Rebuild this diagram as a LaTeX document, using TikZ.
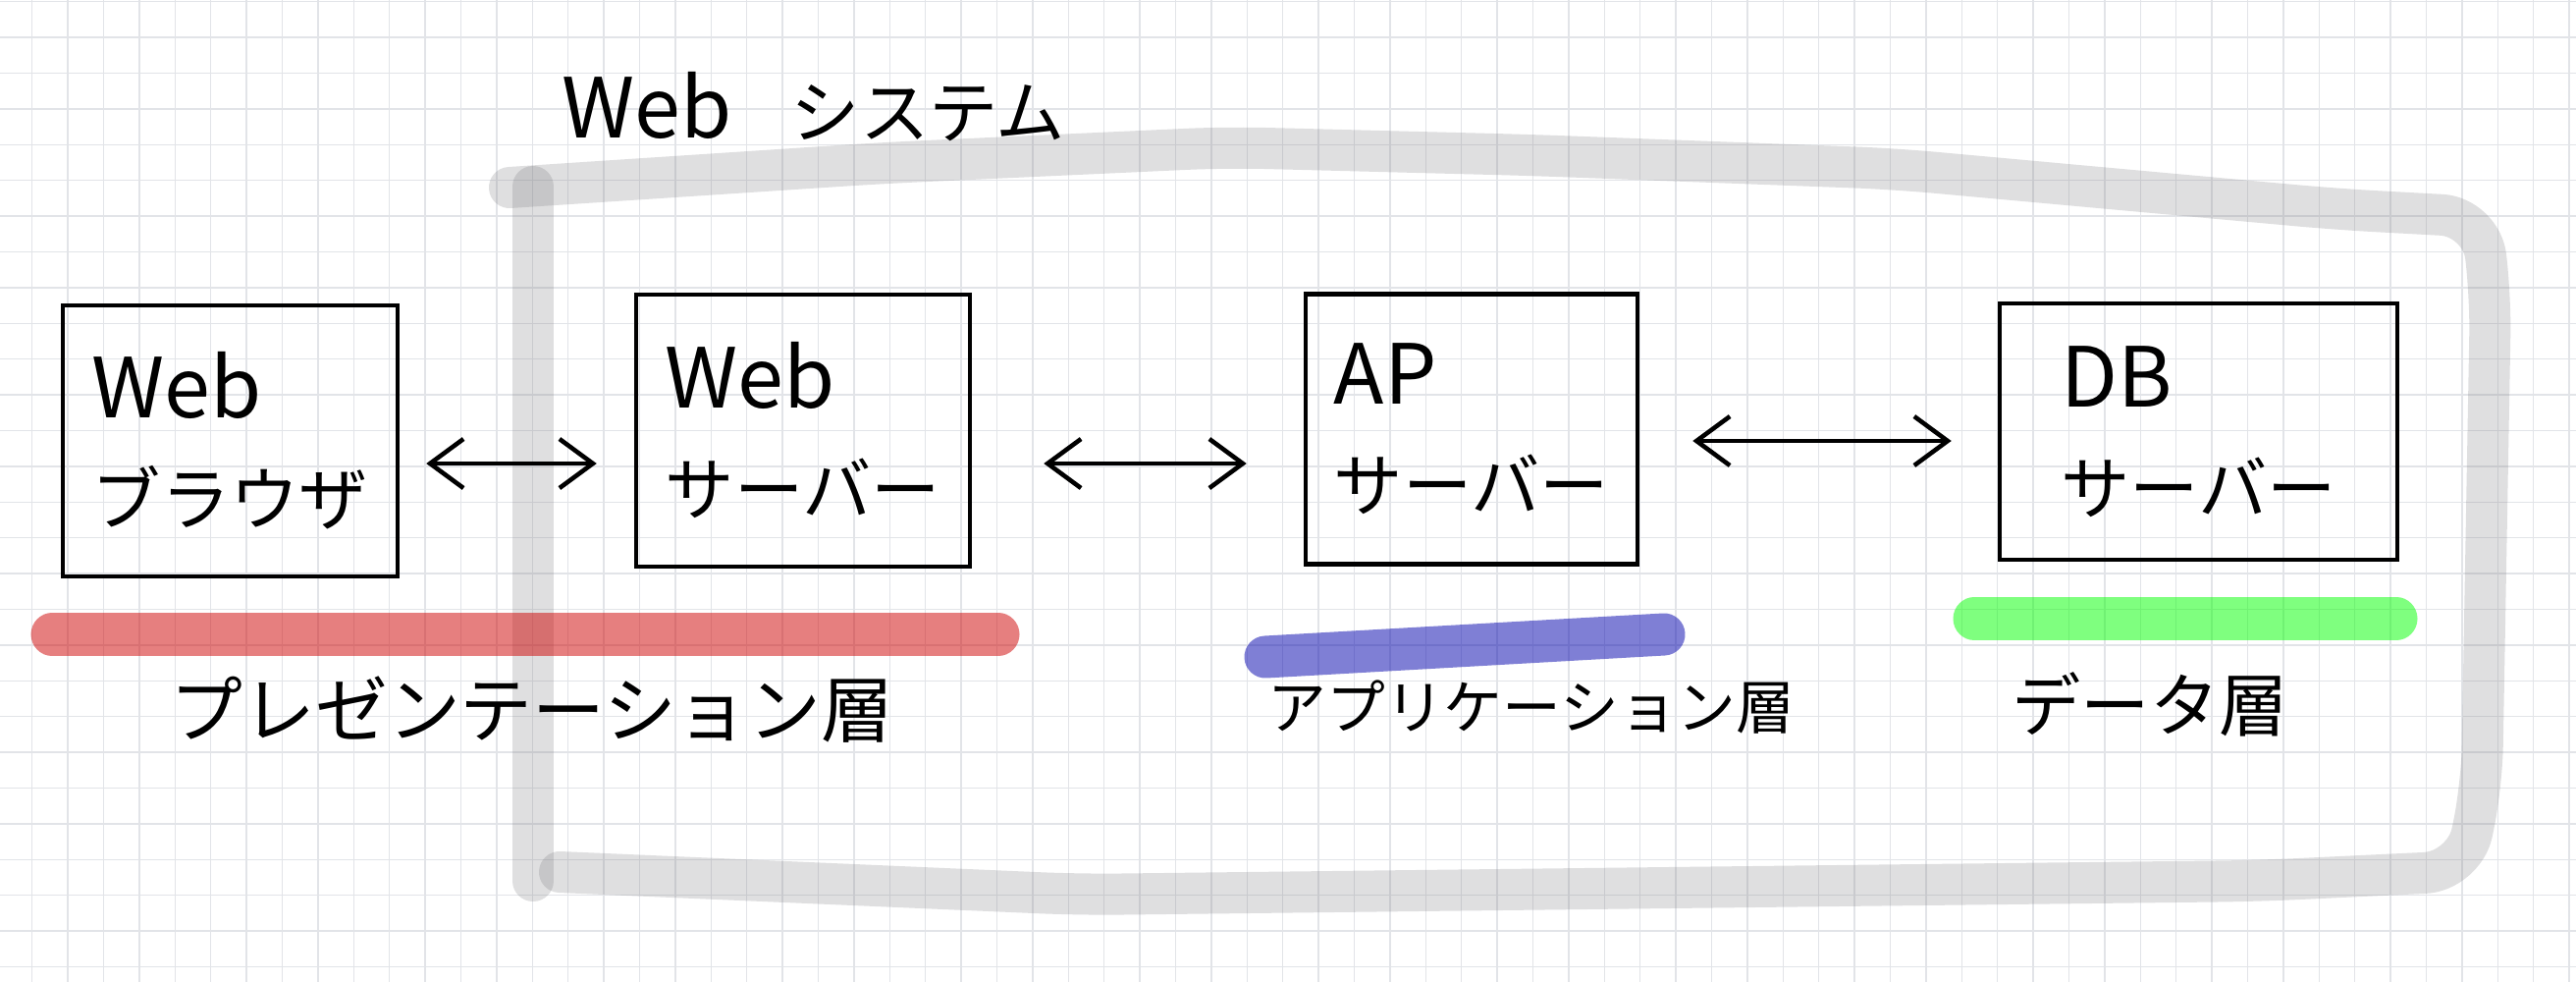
\documentclass[tikz,border=0pt]{standalone}
\usepackage{fontspec}
\newfontfamily\jpfont{Noto Sans CJK JP}
\usetikzlibrary{arrows.meta}
\definecolor{gridc}{RGB}{226,228,232}
\definecolor{framec}{RGB}{118,119,123}
\definecolor{redhl}{RGB}{207,0,0}
\definecolor{bluehl}{RGB}{0,0,173}
\definecolor{greenhl}{RGB}{0,255,0}

\begin{document}
\begin{tikzpicture}[x=0.01cm, y=-0.01cm,
    gridline/.style={draw=gridc, line width=0.15mm},
    sysframe/.style={draw=framec, draw opacity=.23, line width=4.2mm, line cap=round, line join=round, rounded corners=4mm},
    layerbar/.style={line width=4.3mm, line cap=round, draw opacity=.5},
    box/.style={draw, line width=1.2pt, align=left, font=\jpfont\fontsize{20}{31}\selectfont},
    biarrow/.style={{Straight Barb[length=3.4mm,width=5mm]}-{Straight Barb[length=3.4mm,width=5mm]}, line width=1.3pt, line cap=round},
    hand/.style={font=\jpfont\fontsize{20}{24}\selectfont, inner sep=0pt}]
        \useasboundingbox (0,0) rectangle (2624,1000);
        \fill[white] (0,0) rectangle (2624,1000);
        % grid paper
        \foreach \i in {0,...,71} \draw[gridline] ({32.7+36.4*\i},0) -- ++(0,1000);
        \foreach \j in {0,...,27} \draw[gridline] (0,{1.7+36.4*\j}) -- ++(2624,0);
        % Web system frame
        \draw[sysframe] (543,190) -- (543,897);
        \draw[sysframe] (519,191) -- (900,166) -- (1250,150) -- (1560,158) -- (1930,172) -- (2380,213)
            -- (2527,221) -- (2537,300) -- (2528,800) -- (2510,887) -- (2300,897) -- (1100,911) -- (570,888);
        % layers
        \draw[layerbar, draw=redhl] (53,646) -- (1017,646);
        \draw[layerbar, draw=bluehl] (1289,669) -- (1695,646);
        \draw[layerbar, draw=greenhl] (2011,630) -- (2441,630);
        % servers
        \node[box, minimum width=34.1mm, minimum height=27.6mm] (B1) at (234.5,449) {{\fontsize{24}{31}\selectfont Web}\\ブラウザ};
        \node[box, minimum width=34.0mm, minimum height=27.7mm] (B2) at (818,438.5) {{\fontsize{24}{31}\selectfont Web}\\サーバー};
        \node[box, minimum width=33.8mm, minimum height=27.5mm] (B3) at (1499,437) {{\fontsize{24}{31}\selectfont AP}\\サーバー};
        \node[box, minimum width=40.5mm, minimum height=26.1mm] (B4) at (2239.5,439.5) {{\fontsize{24}{31}\selectfont DB}\\サーバー};
        \draw[biarrow, shorten <=2.7mm, shorten >=3.8mm] ([yshift=-2.3mm]B1.east) -- ([yshift=-2.3mm]B1.east -| B2.west);
        \draw[biarrow, shorten <=7.3mm, shorten >=5.8mm] ([yshift=-3.35mm]B2.east) -- ([yshift=-3.35mm]B2.east -| B3.west);
        \draw[biarrow, shorten <=5.4mm, shorten >=4.7mm] ([yshift=-1.2mm]B3.east) -- ([yshift=-1.2mm]B3.east -| B4.west);
        % labels
        \node[hand, anchor=base west] (T) at (572,140) {{\fontsize{24}{24}\selectfont Web}\hspace{6mm}システム};
        \node[hand, font=\jpfont\fontsize{21}{24}\selectfont] (L1) at (542,723) {プレゼンテーション層};
        \node[hand, font=\jpfont\fontsize{17}{20}\selectfont] (L2) at (1560,720) {アプリケーション層};
        \node[hand] (L3) at (2190,717) {データ層};
\end{tikzpicture}
\end{document}
